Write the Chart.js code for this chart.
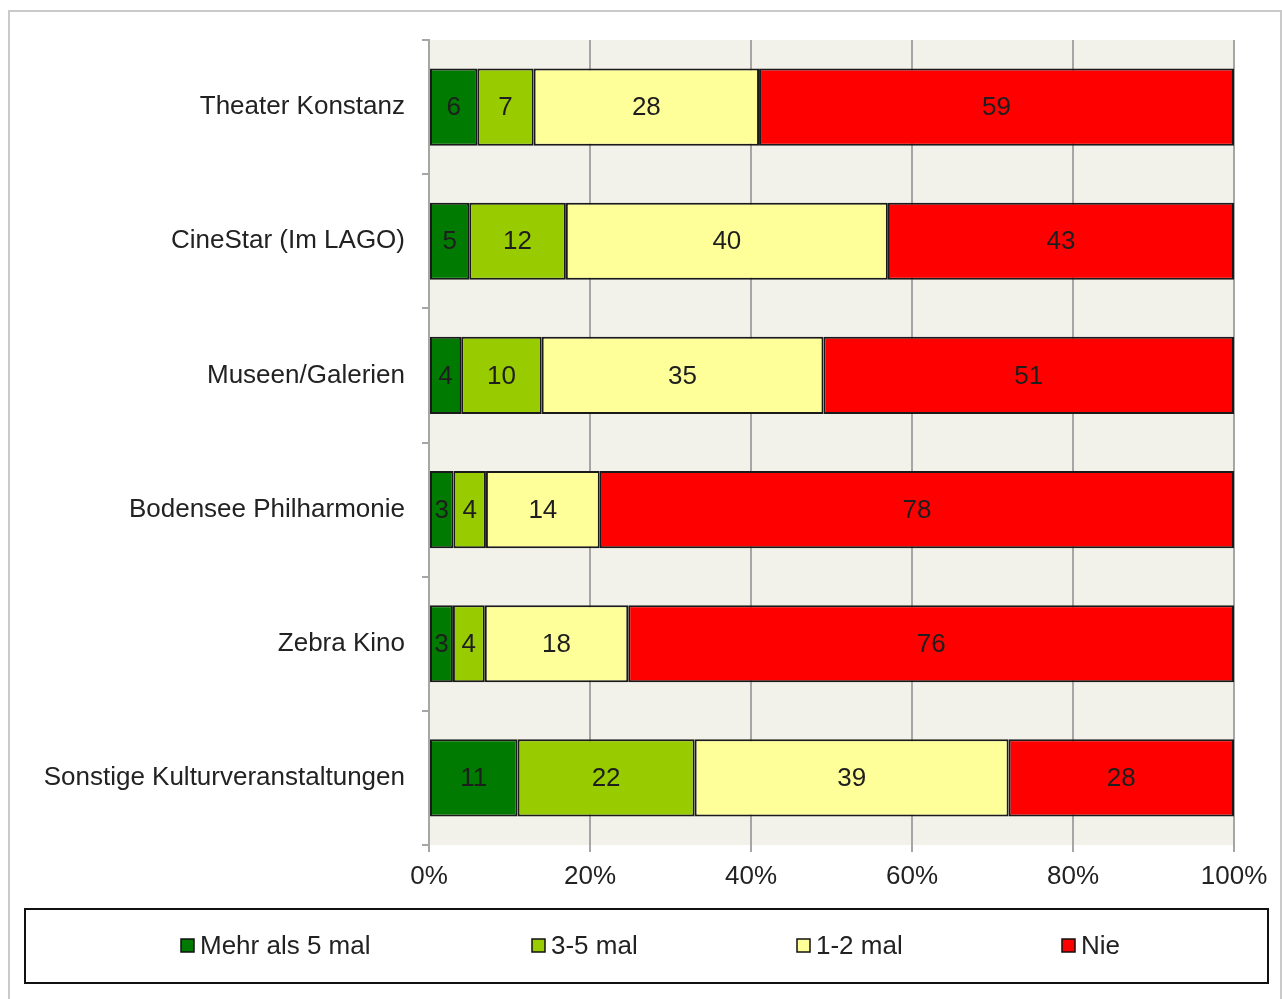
<!DOCTYPE html>
<html>
<head>
<meta charset="utf-8">
<script src="https://cdn.jsdelivr.net/npm/chart.js@4"></script>
<style>
html,body{margin:0;padding:0;background:#fff;overflow:hidden;}
#wrap{position:absolute;left:0;top:0;width:1282px;height:999px;}
#frame{position:absolute;left:8px;top:10px;width:1274px;height:1000px;border:2px solid #cacaca;box-sizing:border-box;}
</style>
</head>
<body>
<div id="frame"></div>
<div id="wrap"><canvas id="c" width="1282" height="999"></canvas></div>
<script>
const categories = ["Theater Konstanz","CineStar (Im LAGO)","Museen/Galerien","Bodensee Philharmonie","Zebra Kino","Sonstige Kulturveranstaltungen"];
const seriesNames = ["Mehr als 5 mal","3-5 mal","1-2 mal","Nie"];
const mehrAls5 = [6,5,4,3,3,11];
const dreiBis5 = [7,12,10,4,4,22];
const einsBis2 = [28,40,35,14,18,39];
const nie = [59,43,51,78,76,28];
const xTicks = [0,20,40,60,80,100];
const colors = ["#007A00","#99CC00","#FFFF99","#FF0000"];

const FONT = "'Liberation Sans', Arial, sans-serif";
const FS = 26;

const raw = [mehrAls5, dreiBis5, einsBis2, nie];
// 100% stacked: each bar is shown as share of its row total (like a 100% stacked bar chart)
const totals = categories.map((_,j)=>raw.reduce((s,arr)=>s+arr[j],0));

const bgPlugin = {
  id:'bg',
  beforeDraw(chart){
    const {ctx, chartArea:a} = chart;
    ctx.save();
    ctx.fillStyle = '#F2F1EA';
    ctx.fillRect(a.left, a.top, a.right-a.left, a.bottom-a.top);
    ctx.restore();
  }
};

const labelPlugin = {
  id:'vals',
  afterDatasetsDraw(chart){
    const ctx = chart.ctx;
    ctx.save();
    ctx.font = FS + "px " + FONT;
    ctx.fillStyle = '#1e1e1e';
    ctx.textAlign = 'center';
    ctx.textBaseline = 'middle';
    chart.data.datasets.forEach((ds,i)=>{
      const meta = chart.getDatasetMeta(i);
      meta.data.forEach((bar,j)=>{
        const x = (bar.x + bar.base)/2;
        ctx.fillText(String(ds.rawValues[j]), x, bar.y+1);
      });
    });
    ctx.restore();
  }
};

const legendPlugin = {
  id:'boxLegend',
  afterDraw(chart){
    const ctx = chart.ctx;
    ctx.save();
    ctx.strokeStyle = '#111';
    ctx.lineWidth = 2;
    ctx.strokeRect(25, 909, 1243, 74);
    ctx.font = FS + "px " + FONT;
    ctx.textBaseline = 'middle';
    ctx.textAlign = 'left';
    const xs = [181, 532, 797, 1062];
    const y = 946;
    chart.data.datasets.forEach((ds,i)=>{
      ctx.fillStyle = ds.backgroundColor;
      ctx.fillRect(xs[i], y-7, 13, 13);
      ctx.strokeStyle = '#111';
      ctx.lineWidth = 1.5;
      ctx.strokeRect(xs[i], y-7, 13, 13);
      ctx.fillStyle = '#222';
      ctx.fillText(ds.label, xs[i]+19, y+1);
    });
    ctx.restore();
  }
};

const datasets = raw.map((d,i)=>({
  label: seriesNames[i],
  data: d.map((v,j)=>v*100/totals[j]),
  rawValues: d,
  backgroundColor: colors[i],
  borderColor: '#1a1a1a',
  borderWidth: 2,
  borderSkipped: false,
  barPercentage: 0.575,
  categoryPercentage: 1.0
}));

new Chart(document.getElementById('c'), {
  type:'bar',
  data:{ labels: categories, datasets },
  options:{
    indexAxis:'y',
    responsive:false,
    animation:false,
    layout:{ padding:{ left:0, right:48, top:40, bottom:104 } },
    plugins:{ legend:{display:false}, tooltip:{enabled:false} },
    scales:{
      x:{
        stacked:true, min:0, max:100,
        afterBuildTicks(s){ s.ticks = xTicks.map(v=>({value:v})); },
        afterFit(s){ s.height = 50; },
        ticks:{ callback:v=>v+'%', font:{size:FS, family:FONT}, color:'#222', padding:9 },
        grid:{ color:'#a6a6a6', lineWidth:2, tickLength:7, drawOnChartArea:true },
        border:{ display:false }
      },
      y:{
        stacked:true,
        afterFit(s){ s.width = 429; },
        ticks:{ font:{size:FS, family:FONT}, color:'#222', padding:17 },
        grid:{ offset:true, drawOnChartArea:false, color:'#a6a6a6', lineWidth:2, tickLength:7 },
        border:{ display:true, color:'#a6a6a6', width:2 }
      }
    }
  },
  plugins:[bgPlugin, labelPlugin, legendPlugin]
});
</script>
</body>
</html>
